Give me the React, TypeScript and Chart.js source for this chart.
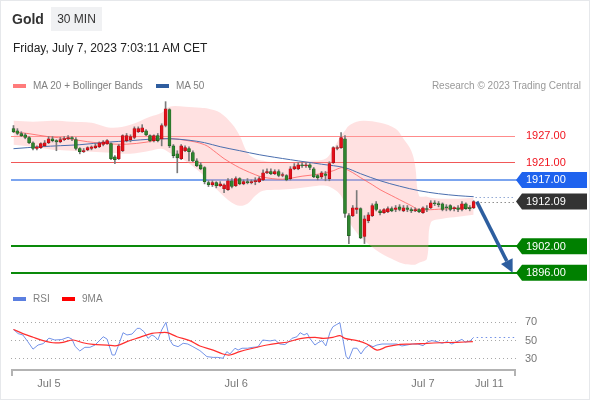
import React, { useEffect, useRef } from "react";
import { Chart, registerables } from "chart.js";
Chart.register(...registerables);

const FONT = '"Liberation Sans", Arial, Helvetica, sans-serif';

// ---------- price data (30 min candles, index 0 = first visible candle) ----------
const candleOpen = [
  1928.6, 1928.1, 1927.5, 1927.2, 1926.6, 1925.4, 1924.1, 1924.3, 1924.7, 1925.4,
  1926.3, 1925.9, 1925.6, 1926.1, 1926.3, 1926.6, 1926.1, 1924.1, 1923.4, 1923.8,
  1924.1, 1924.3, 1924.5, 1925.0, 1925.2, 1925.2, 1922.2, 1921.8, 1923.6, 1925.9,
  1926.1, 1926.6, 1927.9, 1927.9, 1928.1, 1927.0, 1925.9, 1927.0, 1926.3, 1929.3,
  1932.9, 1924.7, 1922.9, 1921.8, 1923.6, 1924.1, 1923.2, 1921.3, 1920.4, 1919.8,
  1916.4, 1915.9, 1916.4, 1915.7, 1915.0, 1914.8, 1916.8, 1915.7, 1917.3, 1916.1,
  1916.6, 1916.4, 1916.6, 1916.6, 1917.0, 1918.6, 1918.9, 1918.4, 1918.9, 1918.0,
  1918.0, 1917.3, 1919.5, 1919.5, 1920.4, 1920.2, 1920.4, 1919.5, 1918.0, 1917.7,
  1918.4, 1917.3, 1920.9, 1924.1, 1924.3, 1926.3, 1908.9, 1908.9, 1910.3, 1910.5,
  1904.2, 1907.8, 1908.9, 1911.6, 1910.0, 1909.6, 1909.8, 1910.5, 1910.3, 1910.9,
  1910.0, 1910.7, 1910.3, 1910.0, 1910.3, 1909.6, 1910.5, 1910.7, 1911.8, 1911.6,
  1911.6, 1910.9, 1911.2, 1910.5, 1910.7, 1910.3, 1911.6, 1910.7, 1910.7,
];
const candleHigh = [
  1929.3, 1928.6, 1927.9, 1927.5, 1926.8, 1925.6, 1924.7, 1925.4, 1925.9, 1926.8,
  1926.8, 1926.1, 1926.6, 1926.8, 1927.0, 1926.8, 1926.6, 1924.3, 1924.1, 1924.5,
  1924.7, 1925.2, 1925.6, 1925.9, 1926.1, 1925.4, 1922.5, 1925.0, 1927.2, 1927.5,
  1927.2, 1929.0, 1929.0, 1929.5, 1928.4, 1927.2, 1927.2, 1927.5, 1929.7, 1934.7,
  1933.1, 1925.0, 1923.6, 1925.0, 1924.7, 1924.5, 1923.6, 1921.8, 1920.9, 1920.0,
  1916.8, 1916.8, 1916.6, 1916.6, 1916.1, 1917.3, 1917.3, 1917.7, 1917.5, 1917.0,
  1917.3, 1917.0, 1917.5, 1917.7, 1919.3, 1919.5, 1919.5, 1919.3, 1919.3, 1918.6,
  1918.2, 1920.0, 1920.7, 1920.9, 1920.9, 1920.9, 1920.7, 1919.8, 1918.2, 1918.9,
  1918.9, 1921.1, 1924.5, 1924.7, 1927.7, 1927.0, 1909.4, 1911.2, 1914.6, 1910.7,
  1908.9, 1909.6, 1911.6, 1912.1, 1910.3, 1910.5, 1910.9, 1910.9, 1911.2, 1911.4,
  1911.2, 1911.2, 1910.7, 1910.7, 1910.5, 1910.9, 1911.2, 1912.3, 1912.3, 1912.1,
  1911.8, 1911.4, 1911.4, 1910.9, 1911.2, 1912.1, 1911.8, 1911.2, 1912.3,
];
const candleLow = [
  1927.7, 1927.2, 1926.8, 1926.3, 1925.2, 1923.8, 1923.8, 1924.1, 1924.5, 1925.2,
  1925.6, 1923.6, 1925.4, 1925.9, 1926.1, 1925.9, 1923.8, 1922.9, 1923.2, 1923.6,
  1923.8, 1924.1, 1924.3, 1924.7, 1925.0, 1921.6, 1920.7, 1921.6, 1923.4, 1925.6,
  1925.6, 1926.3, 1927.7, 1927.7, 1927.0, 1925.6, 1925.6, 1925.6, 1924.7, 1929.0,
  1924.3, 1922.0, 1918.6, 1921.6, 1923.4, 1921.3, 1921.1, 1920.0, 1919.3, 1916.1,
  1915.5, 1915.5, 1915.2, 1915.5, 1914.1, 1914.6, 1915.2, 1915.5, 1915.9, 1915.9,
  1916.1, 1916.1, 1915.9, 1916.4, 1916.8, 1918.4, 1918.2, 1918.2, 1917.7, 1917.7,
  1916.8, 1917.0, 1919.3, 1919.3, 1919.8, 1919.8, 1919.3, 1917.5, 1917.0, 1917.3,
  1916.8, 1916.8, 1920.7, 1923.8, 1924.1, 1908.5, 1902.6, 1908.7, 1909.4, 1903.7,
  1902.6, 1907.3, 1908.7, 1910.0, 1909.1, 1909.4, 1909.6, 1909.8, 1909.8, 1910.0,
  1909.8, 1909.8, 1909.6, 1909.8, 1909.6, 1909.4, 1909.8, 1910.5, 1911.2, 1910.9,
  1910.0, 1910.0, 1910.0, 1910.0, 1909.8, 1910.0, 1910.3, 1910.0, 1910.5,
];
const candleClose = [
  1927.9, 1927.5, 1927.0, 1926.6, 1925.4, 1924.1, 1924.5, 1925.2, 1925.4, 1926.3,
  1925.9, 1925.6, 1926.1, 1926.3, 1926.6, 1926.3, 1924.1, 1923.4, 1923.6, 1924.3,
  1924.5, 1924.7, 1925.4, 1925.6, 1925.9, 1921.8, 1921.6, 1924.7, 1927.0, 1927.0,
  1926.8, 1928.6, 1928.6, 1928.8, 1927.2, 1925.9, 1927.0, 1925.9, 1929.3, 1933.1,
  1924.7, 1922.5, 1922.0, 1924.7, 1924.3, 1923.4, 1921.3, 1920.2, 1919.5, 1916.6,
  1915.9, 1916.4, 1915.7, 1916.1, 1915.9, 1916.8, 1915.5, 1917.3, 1916.1, 1916.6,
  1916.4, 1916.6, 1916.8, 1917.3, 1918.6, 1918.9, 1918.4, 1918.9, 1918.0, 1918.2,
  1917.0, 1919.5, 1920.0, 1920.4, 1920.2, 1920.4, 1919.8, 1917.7, 1917.5, 1918.6,
  1918.0, 1920.7, 1924.3, 1924.3, 1926.6, 1909.4, 1904.4, 1910.7, 1910.7, 1903.9,
  1908.2, 1909.1, 1911.2, 1910.3, 1909.6, 1910.3, 1910.5, 1910.0, 1910.7, 1910.3,
  1910.7, 1910.3, 1910.0, 1910.3, 1909.8, 1910.7, 1910.3, 1911.8, 1911.6, 1911.4,
  1910.3, 1910.7, 1910.3, 1910.7, 1910.3, 1911.6, 1910.5, 1910.5, 1912.09,
];

// MA 20
const ma20Idx = [0, 4, 9, 14, 19, 24, 29, 34, 39, 44, 49, 52, 54, 57, 59, 62, 64, 69, 74, 79, 82, 84, 85, 87, 89, 92, 94, 97, 99, 102, 104, 107, 109, 114, 118];
const ma20Val = [1927.9, 1927.45, 1926.77, 1926.32, 1925.64, 1925.19, 1925.08, 1925.53, 1926.32, 1925.98, 1924.96, 1923.15, 1921.8, 1920.21, 1919.31, 1918.18, 1917.61, 1917.16, 1917.84, 1918.4, 1919.08, 1919.76, 1919.54, 1918.63, 1917.5, 1915.92, 1914.79, 1913.43, 1912.52, 1911.17, 1910.26, 1910.26, 1910.37, 1910.6, 1910.83];

// MA 50
const ma50Idx = [0, 7, 12, 17, 24, 30, 35, 40, 45, 49, 53, 58, 63, 71, 79, 85, 89, 94, 99, 104, 109, 114, 118];
const ma50Val = [1924.06, 1924.51, 1924.74, 1924.96, 1925.53, 1925.87, 1926.21, 1926.32, 1925.98, 1925.42, 1924.51, 1923.61, 1922.7, 1921.57, 1920.55, 1919.76, 1918.4, 1916.82, 1915.58, 1914.56, 1913.88, 1913.43, 1913.2];

// Bollinger bands
const bandIdx = [0, 5, 10, 15, 20, 25, 30, 35, 38, 40, 44, 48, 50, 53, 56, 58, 60, 62, 64, 68, 72, 76, 80, 82, 84, 85, 86, 88, 90, 94, 98, 100, 102, 103, 104, 106, 107, 110, 114, 118];
const bandUpper = [1930.39, 1930.17, 1930.39, 1930.17, 1929.94, 1928.81, 1929.49, 1931.3, 1932.2, 1933.56, 1933.56, 1933.33, 1933.11, 1932.2, 1929.71, 1927.0, 1923.15, 1921.8, 1921.35, 1920.89, 1921.12, 1921.35, 1921.8, 1924.06, 1927.0, 1928.13, 1929.26, 1930.17, 1930.39, 1929.94, 1928.58, 1926.32, 1923.61, 1920.21, 1913.43, 1913.2, 1912.98, 1912.75, 1912.75, 1912.98];
const bandLower = [1924.96, 1924.51, 1923.83, 1923.61, 1923.38, 1923.15, 1922.93, 1923.61, 1924.06, 1923.15, 1921.35, 1918.63, 1916.82, 1914.11, 1911.84, 1911.17, 1911.62, 1913.43, 1914.56, 1914.79, 1915.01, 1915.46, 1915.69, 1915.01, 1913.43, 1911.17, 1907.77, 1905.06, 1903.25, 1900.53, 1898.72, 1898.05, 1897.82, 1897.82, 1898.27, 1899.18, 1907.32, 1908.23, 1908.68, 1909.13];

// Key levels
const levelPrices = [1927.0, 1921.0, 1917.0, 1902.0, 1896.0];
const currentPrice = 1912.09;
const arrowIdx = [118.8, 128.0];
const arrowPrice = [1912.09, 1896.0];

// RSI panel
const rsiIdx = [0, 1.2, 2.4, 3.7, 5, 6.3, 7.6, 9.1, 10.6, 12.4, 14, 15, 15.8, 17, 18.3, 19.6, 20.9, 22.2, 23, 24, 25.3, 26, 26.8, 28.1, 29.1, 30.4, 31.7, 32.4, 33.5, 34.5, 35.5, 36.3, 37, 38, 39.1, 40.1, 40.9, 42.2, 43.5, 44.7, 46, 47.8, 49.6, 51.2, 52.4, 53.7, 54.7, 55.5, 56.8, 57.6, 58.6, 60, 61.4, 62.7, 63.9, 65.8, 67.1, 68.3, 69.6, 70.6, 71.4, 72.7, 73.5, 74.5, 75.3, 76, 77.3, 78.1, 79.1, 80.1, 81.2, 81.9, 82.9, 83.7, 84.5, 85.3, 86, 87.1, 88.1, 89.1, 90.1, 91.2, 92.2, 93.2, 94.5, 95.8, 98.3, 99.6, 100.9, 102.2, 103.7, 105, 106.3, 107.3, 108.6, 109.9, 111.2, 112.4, 113.7, 115, 115.8, 117.1, 118];
const rsiVal = [61.5, 57, 55.5, 48, 40, 44.5, 46, 52, 50, 50.5, 53, 51, 43, 38, 42, 42, 44.5, 50, 53.6, 51, 33.6, 33.6, 42.7, 58, 55.5, 56.5, 62.7, 62.7, 59, 51.8, 55.5, 53.6, 50, 61, 69.3, 50, 44.5, 42.7, 46.4, 45.6, 42.7, 38.4, 31.8, 31, 31, 30, 37.3, 34.7, 41, 39, 41, 41, 42, 42.5, 50, 49, 50, 45.6, 45, 48.2, 51.8, 53.6, 58, 55.5, 57.3, 51.8, 44.5, 47, 49.3, 43.5, 59, 64.5, 67, 68.9, 50, 31.8, 29.3, 41, 41, 34.7, 41, 44.5, 42.7, 44.5, 45.6, 45.6, 45.6, 43.5, 44.5, 45.6, 45.6, 43.8, 48.2, 49.3, 48.2, 46.4, 48.2, 45.6, 48.2, 50.7, 47.6, 49, 52.9];
const rsiMaIdx = [0, 2.4, 5, 7.6, 10.1, 12.7, 15.3, 17.8, 20.4, 24, 26.5, 29.1, 32.4, 35.5, 37.6, 39.4, 41.9, 45.2, 47.8, 51.2, 53.7, 55.5, 58, 61.4, 65, 67.6, 70.1, 73.5, 77.3, 79.4, 81.9, 83.7, 85, 88.1, 90.6, 93.2, 95.8, 99.1, 102.4, 106, 109.4, 113.7, 117.8];
const rsiMaVal = [61.5, 57, 53, 49.3, 47, 47.5, 50, 47, 45.3, 44.5, 43.8, 48.2, 52.9, 57.3, 58, 58, 53.6, 49.3, 43.5, 39, 34.7, 33.6, 37.3, 41, 44.5, 46.4, 47.5, 51.5, 52.9, 51.8, 52.9, 54.7, 51.8, 49.3, 45.6, 39, 42.7, 45.3, 45.6, 46.4, 47, 47.5, 48.2];
const rsiLevels = [70, 50, 30];

// time axis
const dayTickIdx = [9.1, 57.1, 105, 122];
const dayTickLabels = ["Jul 5", "Jul 6", "Jul 7", "Jul 11"];

// ---------- layout / styles ----------
const X_MIN = -0.64;
const X_MAX = 128.6;
const UP_COLOR = "#e3101a";
const DOWN_COLOR = "#2f852f";
const levelLook = [
  { line: "rgba(255,110,110,0.8)", width: 1, kind: "text", color: "#f0141e", ext: 0 },
  { line: "rgba(240,70,70,0.9)", width: 1, kind: "text", color: "#f0141e", ext: 0 },
  { line: "#4f86ea", width: 1.5, kind: "box", color: "#1f63ee", ext: 2 },
  { line: "#0a8a0a", width: 2, kind: "box", color: "#008000", ext: 2 },
  { line: "#0a8a0a", width: 2, kind: "box", color: "#008000", ext: 2 },
];

function drawTag(ctx: CanvasRenderingContext2D, tipX: number, yC: number, right: number, h: number, fill: string, text: string) {
  const notch = 6;
  ctx.fillStyle = fill;
  ctx.beginPath();
  ctx.moveTo(tipX, yC);
  ctx.lineTo(tipX + notch, yC - h / 2);
  ctx.lineTo(right, yC - h / 2);
  ctx.lineTo(right, yC + h / 2);
  ctx.lineTo(tipX + notch, yC + h / 2);
  ctx.closePath();
  ctx.fill();
  ctx.fillStyle = "#ffffff";
  ctx.font = `11px ${FONT}`;
  ctx.textAlign = "left";
  ctx.textBaseline = "middle";
  ctx.fillText(text, tipX + 10, yC + 0.5);
}

function MainChart() {
  const ref = useRef<HTMLCanvasElement | null>(null);
  useEffect(() => {
    if (!ref.current) return;
    const idx = candleOpen.map((_, i) => i);
    const colors = idx.map((i) => (candleClose[i] > candleOpen[i] ? UP_COLOR : DOWN_COLOR));
    const decor = {
      id: "mainDecor",
      beforeDatasetsDraw(chart: any) {
        const { ctx, chartArea, scales } = chart;
        const y = scales.y;
        ctx.save();
        levelPrices.forEach((p, k) => {
          const st = levelLook[k];
          const py = Math.round(y.getPixelForValue(p)) + (st.width === 1 ? 0.5 : 0);
          ctx.strokeStyle = st.line;
          ctx.lineWidth = st.width;
          ctx.beginPath();
          ctx.moveTo(chartArea.left, py);
          ctx.lineTo(chartArea.right + st.ext, py);
          ctx.stroke();
        });
        ctx.restore();
      },
      afterDatasetsDraw(chart: any) {
        const { ctx, chartArea, scales } = chart;
        const x = scales.x;
        const y = scales.y;
        ctx.save();
        // dotted extensions
        ctx.setLineDash([1, 3]);
        ctx.lineWidth = 1;
        const lastMa = ma50Val[ma50Val.length - 1];
        const lastMaX = x.getPixelForValue(ma50Idx[ma50Idx.length - 1]) + 2;
        ctx.strokeStyle = "#5d7fbf";
        const pyM = Math.round(y.getPixelForValue(lastMa)) + 0.5;
        ctx.beginPath();
        ctx.moveTo(lastMaX, pyM);
        ctx.lineTo(chartArea.right, pyM);
        ctx.stroke();
        ctx.strokeStyle = "#555";
        const pyC = Math.round(y.getPixelForValue(currentPrice)) + 0.5;
        const lastX = x.getPixelForValue(candleClose.length - 1) + 3;
        ctx.beginPath();
        ctx.moveTo(lastX, pyC);
        ctx.lineTo(chartArea.right, pyC);
        ctx.stroke();
        ctx.setLineDash([]);

        // arrow
        const ax0 = x.getPixelForValue(arrowIdx[0]);
        const ay0 = y.getPixelForValue(arrowPrice[0]);
        const ax1 = x.getPixelForValue(arrowIdx[1]);
        const ay1 = y.getPixelForValue(arrowPrice[1]);
        const ang = Math.atan2(ay1 - ay0, ax1 - ax0);
        const headL = 13;
        const headW = 6.5;
        const bx = ax1 - headL * Math.cos(ang);
        const by = ay1 - headL * Math.sin(ang);
        ctx.strokeStyle = "#2d5e9f";
        ctx.fillStyle = "#2d5e9f";
        ctx.lineWidth = 3.5;
        ctx.beginPath();
        ctx.moveTo(ax0, ay0);
        ctx.lineTo(bx, by);
        ctx.stroke();
        ctx.beginPath();
        ctx.moveTo(ax1, ay1);
        ctx.lineTo(bx + headW * Math.sin(ang), by - headW * Math.cos(ang));
        ctx.lineTo(bx - headW * Math.sin(ang), by + headW * Math.cos(ang));
        ctx.closePath();
        ctx.fill();

        // right labels
        const tipX = chartArea.right + 1;
        const boxRight = chartArea.right + 72;
        levelPrices.forEach((p, k) => {
          const st = levelLook[k];
          const py = y.getPixelForValue(p);
          if (st.kind === "text") {
            ctx.fillStyle = st.color;
            ctx.font = `11px ${FONT}`;
            ctx.textAlign = "left";
            ctx.textBaseline = "middle";
            ctx.fillText(p.toFixed(2), tipX + 10, py + 0.5);
          } else {
            drawTag(ctx, tipX, py, boxRight, 16, st.color, p.toFixed(2));
          }
        });
        drawTag(ctx, tipX, y.getPixelForValue(currentPrice), boxRight, 16, "#333333", currentPrice.toFixed(2));
        ctx.restore();
      },
    };

    const line = (xs: number[], ys: number[]) => xs.map((v, k) => ({ x: v, y: ys[k] }));

    const chart = new Chart(ref.current, {
      type: "bar",
      data: {
        datasets: [
          {
            type: "line",
            label: "upper",
            data: line(bandIdx, bandUpper),
            borderColor: "rgba(0,0,0,0)",
            borderWidth: 1,
            pointRadius: 0,
            fill: "+1",
            backgroundColor: "rgba(255,165,165,0.33)",
            tension: 0.35,
            order: 20,
          } as any,
          {
            type: "line",
            label: "lower",
            data: line(bandIdx, bandLower),
            borderColor: "rgba(0,0,0,0)",
            borderWidth: 1,
            pointRadius: 0,
            fill: false,
            tension: 0.35,
            order: 21,
          } as any,
          {
            type: "line",
            label: "ma20",
            data: line(ma20Idx, ma20Val),
            borderColor: "rgba(255,95,95,0.8)",
            borderWidth: 1,
            pointRadius: 0,
            fill: false,
            tension: 0.35,
            order: 5,
          } as any,
          {
            type: "line",
            label: "ma50",
            data: line(ma50Idx, ma50Val),
            borderColor: "#4a6eae",
            borderWidth: 1,
            pointRadius: 0,
            fill: false,
            tension: 0.35,
            order: 4,
          } as any,
          {
            type: "bar",
            label: "wick",
            data: idx.map((i) => ({ x: i, y: [candleLow[i], candleHigh[i]] })),
            backgroundColor: "#7a7a7a",
            barThickness: 1,
            grouped: false,
            order: 2,
          } as any,
          {
            type: "bar",
            label: "body",
            data: idx.map((i) => ({ x: i, y: [candleOpen[i], candleClose[i]] })),
            backgroundColor: colors,
            borderColor: colors.map((c) => (c === UP_COLOR ? "#a80a10" : "#1d5a1d")),
            borderWidth: 0.6,
            borderSkipped: false,
            barThickness: 3,
            minBarLength: 1,
            grouped: false,
            order: 1,
          } as any,
        ],
      },
      options: {
        animation: false,
        responsive: false,
        maintainAspectRatio: false,
        layout: { padding: { left: 11, right: 75, top: 98, bottom: 8 } },
        plugins: { legend: { display: false }, tooltip: { enabled: false } },
        scales: {
          x: { type: "linear", min: X_MIN, max: X_MAX, offset: false, display: false },
          y: { type: "linear", min: 1893.9, max: 1935.53, display: false },
        },
      } as any,
      plugins: [decor],
    });
    return () => chart.destroy();
  }, []);
  return <canvas ref={ref} width={590} height={290} style={{ position: "absolute", left: 0, top: 0, width: 590, height: 290 }} />;
}

function RsiChart() {
  const ref = useRef<HTMLCanvasElement | null>(null);
  useEffect(() => {
    if (!ref.current) return;
    const decor = {
      id: "rsiDecor",
      beforeDatasetsDraw(chart: any) {
        const { ctx, chartArea, scales } = chart;
        const y = scales.y;
        ctx.save();
        ctx.setLineDash([1, 3]);
        ctx.strokeStyle = "#a8a8a8";
        ctx.lineWidth = 1;
        rsiLevels.forEach((v) => {
          const py = Math.round(y.getPixelForValue(v)) + 0.5;
          ctx.beginPath();
          ctx.moveTo(chartArea.left, py);
          ctx.lineTo(chartArea.right + 2, py);
          ctx.stroke();
        });
        ctx.setLineDash([]);
        ctx.fillStyle = "#777";
        ctx.font = `11px ${FONT}`;
        ctx.textAlign = "left";
        ctx.textBaseline = "middle";
        rsiLevels.forEach((v) => {
          ctx.fillText(String(v), chartArea.right + 10, y.getPixelForValue(v) + 0.5);
        });
        ctx.restore();
      },
      afterDatasetsDraw(chart: any) {
        const { ctx, chartArea, scales } = chart;
        const x = scales.x;
        const y = scales.y;
        ctx.save();
        // dotted RSI extension
        ctx.setLineDash([1.5, 3]);
        ctx.strokeStyle = "#6f8fe6";
        ctx.lineWidth = 1;
        const lv = rsiVal[rsiVal.length - 1];
        const py = Math.round(y.getPixelForValue(lv)) + 0.5;
        ctx.beginPath();
        ctx.moveTo(x.getPixelForValue(rsiIdx[rsiIdx.length - 1]) + 3, py);
        ctx.lineTo(chartArea.right + 2, py);
        ctx.stroke();
        ctx.setLineDash([]);
        // time axis
        const base = chartArea.bottom;
        ctx.strokeStyle = "#b3b3b3";
        ctx.lineWidth = 2;
        ctx.beginPath();
        ctx.moveTo(chartArea.left, base);
        ctx.lineTo(chartArea.right + 1, base);
        ctx.stroke();
        ctx.beginPath();
        ctx.moveTo(chartArea.left + 1, base);
        ctx.lineTo(chartArea.left + 1, base + 6);
        ctx.moveTo(chartArea.right, base);
        ctx.lineTo(chartArea.right, base + 6);
        ctx.stroke();
        ctx.fillStyle = "#777";
        ctx.font = `11px ${FONT}`;
        ctx.textAlign = "center";
        ctx.textBaseline = "middle";
        dayTickIdx.forEach((v, k) => {
          ctx.fillText(dayTickLabels[k], x.getPixelForValue(v), base + 13.5);
        });
        ctx.restore();
      },
    };
    const line = (xs: number[], ys: number[]) => xs.map((v, k) => ({ x: v, y: ys[k] }));
    const chart = new Chart(ref.current, {
      type: "line",
      data: {
        datasets: [
          {
            label: "RSI",
            data: line(rsiIdx, rsiVal),
            borderColor: "#7393e8",
            borderWidth: 1,
            pointRadius: 0,
            fill: false,
            tension: 0,
            order: 2,
          },
          {
            label: "9MA",
            data: line(rsiMaIdx, rsiMaVal),
            borderColor: "#ff2f2f",
            borderWidth: 1.2,
            pointRadius: 0,
            fill: false,
            tension: 0.35,
            order: 1,
          },
        ],
      },
      options: {
        animation: false,
        responsive: false,
        maintainAspectRatio: false,
        layout: { padding: { left: 11, right: 75, top: 20, bottom: 30 } },
        plugins: { legend: { display: false }, tooltip: { enabled: false } },
        scales: {
          x: { type: "linear", min: X_MIN, max: X_MAX, offset: false, display: false },
          y: { type: "linear", min: 17.2, max: 82.8, display: false },
        },
      } as any,
      plugins: [decor],
    });
    return () => chart.destroy();
  }, []);
  return <canvas ref={ref} width={590} height={110} style={{ position: "absolute", left: 0, top: 290, width: 590, height: 110 }} />;
}

const txt: React.CSSProperties = { position: "absolute", fontFamily: FONT, whiteSpace: "nowrap", lineHeight: 1 };

export default function App() {
  return (
    <div
      style={{
        position: "absolute",
        left: 0,
        top: 0,
        width: 590,
        height: 400,
        boxSizing: "border-box",
        border: "1px solid #e6e8eb",
        background: "#fff",
        overflow: "hidden",
        fontFamily: FONT,
      }}
    >
      <div style={{ position: "absolute", left: -1, top: -1, width: 590, height: 400 }}>
        <MainChart />
        <RsiChart />
        <div style={{ ...txt, left: 12, top: 12, fontSize: 14, fontWeight: 700, color: "#333" }}>Gold</div>
        <div
          style={{
            ...txt,
            left: 51,
            top: 7,
            width: 51,
            height: 24,
            background: "#f0f1f3",
            fontSize: 12,
            color: "#333",
            display: "flex",
            alignItems: "center",
            justifyContent: "center",
          }}
        >
          30 MIN
        </div>
        <div style={{ ...txt, left: 13, top: 42, fontSize: 12, color: "#222" }}>Friday, July 7, 2023 7:03:11 AM CET</div>

        <div style={{ position: "absolute", left: 13, top: 84, width: 13, height: 4, background: "#ff7b7b" }} />
        <div style={{ ...txt, left: 33, top: 81, fontSize: 10, color: "#808080" }}>MA 20 + Bollinger Bands</div>
        <div style={{ position: "absolute", left: 156, top: 84, width: 13, height: 4, background: "#2f5d9f" }} />
        <div style={{ ...txt, left: 176, top: 81, fontSize: 10, color: "#808080" }}>MA 50</div>
        <div style={{ ...txt, right: 9, top: 81, fontSize: 10, color: "#999" }}>Research © 2023 Trading Central</div>

        <div style={{ position: "absolute", left: 13, top: 297, width: 13, height: 4, background: "#5b7fe0" }} />
        <div style={{ ...txt, left: 33, top: 294, fontSize: 10, color: "#808080" }}>RSI</div>
        <div style={{ position: "absolute", left: 62, top: 297, width: 13, height: 4, background: "#ff0000" }} />
        <div style={{ ...txt, left: 82, top: 294, fontSize: 10, color: "#808080" }}>9MA</div>
      </div>
    </div>
  );
}
